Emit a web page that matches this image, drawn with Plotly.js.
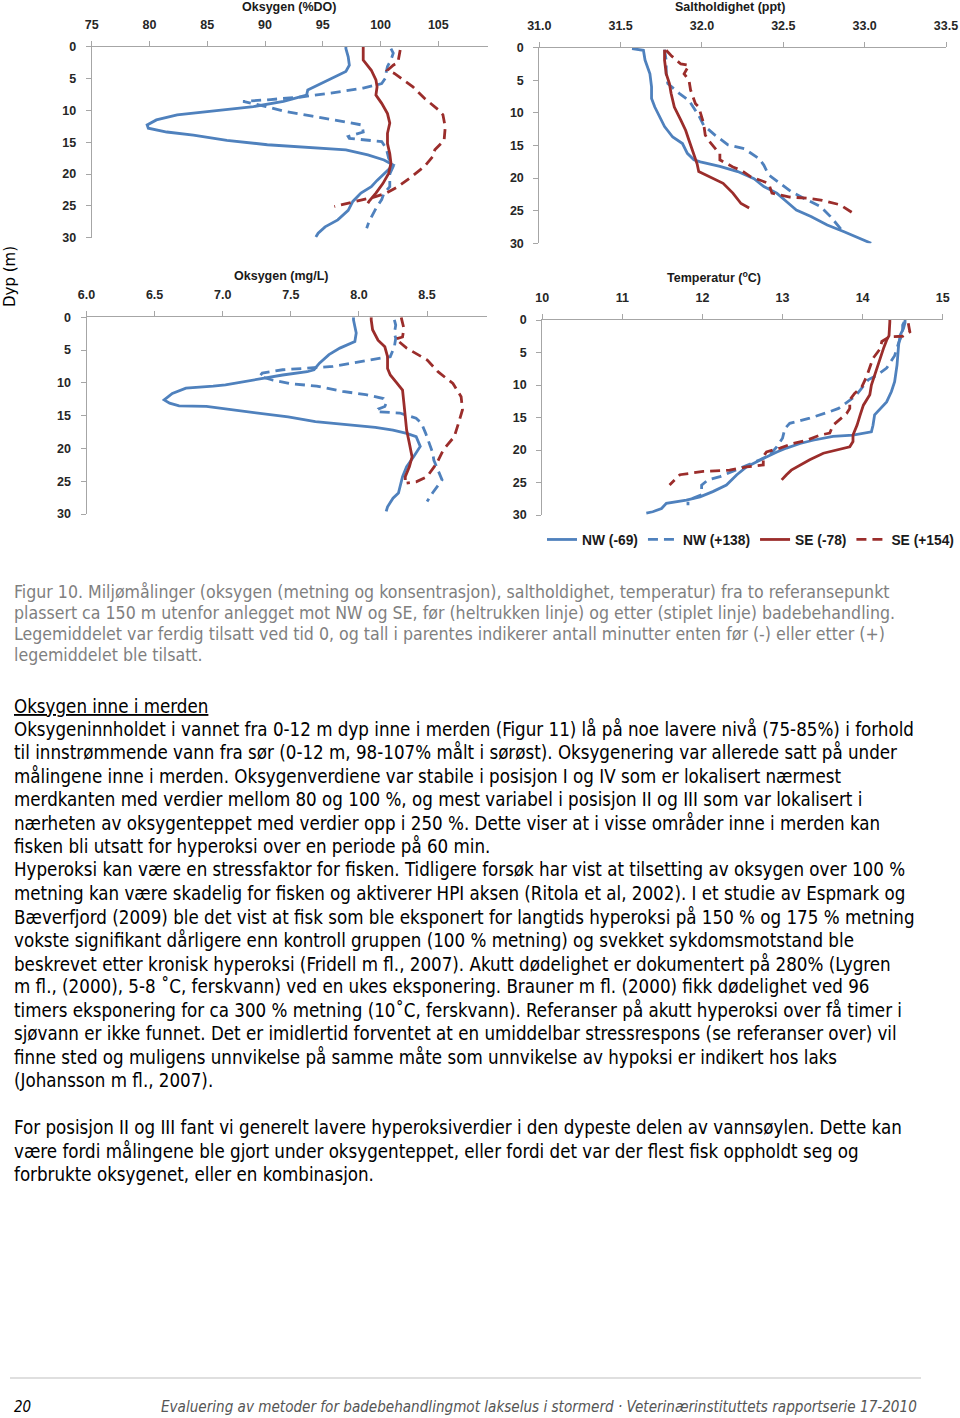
<!DOCTYPE html>
<html><head><meta charset="utf-8">
<script src="https://cdn.plot.ly/plotly-3.0.1.min.js"></script>
<style>html,body{margin:0;padding:0;background:#fff;}#chart{width:960px;height:1418px;}</style>
</head><body><div id="chart"></div>
<script>
// ---------- DATA ----------
var seriesNames = ['NW (-69)', 'NW (+138)', 'SE (-78)', 'SE (+154)'];

// Oksygen (%DO)
var doNW69_d = [0,0.3,1.6,2.9,3.9,5.0,5.8,6.8,7.6,8.1,8.4,8.6,9.4,10.2,10.7,11.5,12.3,12.8,13.4,13.9,14.7,15.4,15.7,16.2,17.0,17.8,18.6,19.9,21.0,22.0,23.0,24.3,25.7,27.2,28.3,29.3,29.9];
var doNW69_v = [97.0,97.0,97.2,97.3,97.0,95.7,94.9,93.7,93.6,92.6,91.8,91.6,89.0,85.0,82.4,80.6,79.8,79.9,81.5,83.8,86.7,90.2,93.0,97.0,98.9,100.3,101.1,100.3,99.7,99.2,98.3,97.6,97.2,96.3,95.2,94.6,94.4];
var doNW138_d = [0.3,1.0,2.1,3.1,3.9,5.0,5.8,6.5,7.3,7.9,8.3,8.6,9.4,10.2,10.9,11.5,11.9,12.3,13.4,14.1,14.4,14.9,16.0,17.5,18.8,20.0,22.0,23.0,24.0,25.4,27.5,28.5];
var doNW138_v = [100.9,101.1,100.9,100.6,100.5,100.4,100.1,98.5,95.7,93.1,90.5,88.1,90.1,91.8,94.1,96.0,97.4,98.4,98.5,97.2,97.3,100.1,100.5,100.7,101.1,100.8,100.8,100.3,100.1,99.6,99.0,98.8];
var doSE78_d = [0,0.3,2.1,3.7,5.2,6.3,7.6,8.9,10.5,12.0,13.6,15.2,16.8,18.3,19.9,21.5,23.0,24.3,24.6];
var doSE78_v = [98.5,98.5,98.5,99.2,99.6,99.7,99.6,100.1,100.6,100.8,100.6,100.6,100.8,100.9,100.7,100.2,99.6,99.0,98.9];
var doSE154_d = [0.5,1.3,2.5,2.9,3.7,4.2,5.0,6.3,8.1,9.9,10.7,12.6,14.7,16.2,17.3,18.8,20.4,22.0,23.0,23.6,24.1,24.6,25.1];
var doSE154_v = [101.7,101.6,101.5,101.1,100.6,101.2,101.8,102.8,103.8,105.0,105.4,105.6,105.5,104.7,104.5,103.8,102.7,101.5,100.5,99.5,98.3,97.2,96.0];

// Saltholdighet (ppt)
var salNW69_d = [0.15,0.4,1.9,2.7,4.0,6.0,7.8,9.1,10.6,12.1,13.7,14.7,16.2,17.2,17.5,18.2,19.0,20.1,21.3,22.3,23.4,24.9,25.9,27.2,28.2,29.0,30.0];
var salNW69_v = [31.57,31.64,31.65,31.66,31.68,31.69,31.69,31.71,31.74,31.77,31.82,31.88,31.91,31.95,31.99,32.11,32.22,32.32,32.38,32.46,32.51,32.58,32.67,32.77,32.87,32.95,33.04];
var salNW138_d = [0.3,2.0,4.0,5.5,7.0,8.1,10.4,11.9,13.4,14.9,15.5,17.0,18.0,19.5,20.8,22.1,23.4,24.4,25.9,27.7,28.5];
var salNW138_v = [31.77,31.78,31.78,31.79,31.86,31.92,31.98,32.01,32.08,32.16,32.26,32.35,32.38,32.41,32.48,32.55,32.65,32.73,32.79,32.85,32.87];
var salSE78_d = [0.3,1.9,4.0,5.5,7.0,9.1,11.1,12.7,14.2,16.2,17.8,19.0,19.8,20.8,22.3,23.9,24.6];
var salSE78_v = [31.77,31.77,31.78,31.80,31.81,31.83,31.87,31.90,31.92,31.95,31.97,31.98,32.05,32.13,32.19,32.24,32.29];
var salSE154_d = [0.4,1.2,2.5,2.7,4.0,5.0,6.5,7.3,8.6,9.1,10.6,11.6,13.4,14.2,15.7,16.2,17.2,18.3,18.8,19.8,20.8,22.3,22.9,23.1,23.4,24.1,25.4];
var salSE154_v = [31.78,31.81,31.87,31.92,31.89,31.92,31.93,31.94,31.96,31.98,32.00,32.01,32.02,32.04,32.09,32.11,32.11,32.19,32.24,32.30,32.41,32.43,32.54,32.65,32.74,32.85,32.93];

// Oksygen (mg/L)
var mgNW69_d = [0,0.4,1.4,2.4,3.7,4.7,5.7,7.0,8.0,8.3,8.8,9.6,10.3,10.5,10.8,11.6,12.1,12.6,13.1,13.5,13.6,14.1,14.6,15.2,15.9,16.4,16.8,17.2,17.7,18.2,19.7,21.3,22.8,24.3,25.3,26.8,27.6,28.9,29.6];
var mgNW69_v = [7.96,7.96,7.97,7.98,7.97,7.86,7.78,7.71,7.67,7.62,7.44,7.22,7.02,6.93,6.73,6.63,6.60,6.57,6.61,6.68,6.88,7.07,7.27,7.48,7.68,7.95,8.12,8.25,8.35,8.42,8.45,8.40,8.35,8.32,8.31,8.29,8.25,8.21,8.20];
var mgNW138_d = [0.4,1.2,2.4,3.2,4.5,6.0,6.5,7.5,8.0,8.5,9.0,9.6,10.1,10.5,11.3,11.8,12.4,13.1,13.6,14.0,14.4,14.6,15.4,16.2,17.7,19.5,20.6,21.8,24.3,24.8,26.8,28.1];
var mgNW138_v = [8.26,8.27,8.26,8.27,8.26,8.23,8.08,7.81,7.44,7.29,7.27,7.37,7.49,7.69,7.88,8.05,8.18,8.20,8.19,8.14,8.13,8.30,8.42,8.46,8.49,8.52,8.54,8.55,8.60,8.61,8.54,8.50];
var mgSE78_d = [0,0.4,1.9,3.5,4.5,6.0,7.8,8.8,9.8,11.1,13.1,15.2,17.2,19.2,21.3,22.8,24.3,24.8];
var mgSE78_v = [8.09,8.09,8.10,8.14,8.19,8.21,8.21,8.23,8.27,8.32,8.33,8.34,8.35,8.37,8.39,8.37,8.34,8.34];
var mgSE154_d = [0,0.7,1.7,3.0,3.3,4.7,6.5,8.3,10.1,12.1,14.1,16.2,18.2,20.2,22.3,24.3,25.1,25.3];
var mgSE154_v = [8.31,8.32,8.33,8.32,8.27,8.35,8.50,8.58,8.69,8.75,8.76,8.73,8.70,8.62,8.57,8.50,8.42,8.35];

// Temperatur (°C)
var tNW69_d = [0,0.4,1.3,2.3,3.8,6.9,9.5,11.0,12.6,13.6,14.6,16.2,17.2,17.7,17.9,18.5,19.0,19.7,20.3,21.3,22.6,23.8,25.4,26.4,27.2,27.7,28.2,29.0,29.5,29.7];
var tNW69_v = [14.53,14.53,14.51,14.47,14.45,14.43,14.40,14.36,14.30,14.22,14.15,14.13,14.11,13.88,13.63,13.38,13.22,13.05,12.93,12.76,12.55,12.43,12.30,12.13,11.97,11.80,11.55,11.49,11.38,11.30];
var tNW138_d = [0.3,0.8,2.1,3.5,5.5,6.7,7.4,8.5,9.2,10.8,11.8,12.7,13.6,14.1,14.6,15.1,15.5,15.9,16.7,18.2,19.5,20.8,21.5,22.4,23.3,24.1,24.6,25.4,26.9,27.7,28.5];
var tNW138_v = [14.52,14.50,14.50,14.45,14.40,14.34,14.30,14.18,14.07,13.97,13.90,13.80,13.70,13.59,13.47,13.34,13.22,13.09,13.03,13.00,12.93,12.84,12.72,12.55,12.38,12.22,12.07,11.99,11.99,11.82,11.82];
var tSE78_d = [0,0.3,2.4,3.1,4.4,5.9,7.4,9.0,10.0,11.5,13.1,14.6,16.2,17.7,18.7,19.5,20.0,20.5,21.5,22.3,23.1,23.8,24.6];
var tSE78_v = [14.34,14.34,14.33,14.30,14.26,14.22,14.18,14.13,14.11,14.09,14.01,13.97,13.93,13.88,13.88,13.84,13.68,13.51,13.34,13.22,13.11,13.05,12.99];
var tSE154_d = [0.5,1.8,2.5,2.6,3.3,4.4,5.9,7.4,8.7,10.3,11.3,12.3,13.6,14.4,15.4,16.2,17.4,17.7,18.5,19.0,19.7,20.3,21.0,22.3,22.6,23.1,23.3,23.5,23.8,25.4];
var tSE154_v = [14.57,14.59,14.50,14.33,14.24,14.22,14.13,14.09,14.05,13.99,13.90,13.84,13.84,13.80,13.70,13.63,13.59,13.47,13.30,13.13,12.97,12.80,12.76,12.76,12.55,12.34,12.01,11.88,11.72,11.59];

// Tick values
var doTicks = [75,80,85,90,95,100,105];
var salTicks = [31.0,31.5,32.0,32.5,33.0,33.5];
var mgTicks = [6.0,6.5,7.0,7.5,8.0,8.5];
var tTicks = [10,11,12,13,14,15];
var depthTicks = [0,5,10,15,20,25,30];

// ---------- TEXT ----------
var captionLines = [
 'Figur 10. Miljømålinger (oksygen (metning og konsentrasjon), saltholdighet, temperatur) fra to referansepunkt',
 'plassert ca 150 m utenfor anlegget mot NW og SE, før (heltrukken linje) og etter (stiplet linje) badebehandling.',
 'Legemiddelet var ferdig tilsatt ved tid 0, og tall i parentes indikerer antall minutter enten før (-) eller etter (+)',
 'legemiddelet ble tilsatt.'
];
var heading = 'Oksygen inne i merden';
var bodyLines = [
 'Oksygeninnholdet i vannet fra 0-12 m dyp inne i merden (Figur 11) lå på noe lavere nivå (75-85%) i forhold',
 'til innstrømmende vann fra sør (0-12 m, 98-107% målt i sørøst). Oksygenering var allerede satt på under',
 'målingene inne i merden. Oksygenverdiene var stabile i posisjon I og IV som er lokalisert nærmest',
 'merdkanten med verdier mellom 80 og 100 %, og mest variabel i posisjon II og III som var lokalisert i',
 'nærheten av oksygenteppet med verdier opp i 250 %. Dette viser at i visse områder inne i merden kan',
 'fisken bli utsatt for hyperoksi over en periode på 60 min.',
 'Hyperoksi kan være en stressfaktor for fisken. Tidligere forsøk har vist at tilsetting av oksygen over 100 %',
 'metning kan være skadelig for fisken og aktiverer HPI aksen (Ritola et al, 2002). I et studie av Espmark og',
 'Bæverfjord (2009) ble det vist at fisk som ble eksponert for langtids hyperoksi på 150 % og 175 % metning',
 'vokste signifikant dårligere enn kontroll gruppen (100 % metning) og svekket sykdomsmotstand ble',
 'beskrevet etter kronisk hyperoksi (Fridell m fl., 2007). Akutt dødelighet er dokumentert på 280% (Lygren',
 'm fl., (2000), 5-8 ˚C, ferskvann) ved en ukes eksponering. Brauner m fl. (2000) fikk dødelighet ved 96',
 'timers eksponering for ca 300 % metning (10˚C, ferskvann). Referanser på akutt hyperoksi over få timer i',
 'sjøvann er ikke funnet. Det er imidlertid forventet at en umiddelbar stressrespons (se referanser over) vil',
 'finne sted og muligens unnvikelse på samme måte som unnvikelse av hypoksi er indikert hos laks',
 '(Johansson m fl., 2007).',
 '',
 'For posisjon II og III fant vi generelt lavere hyperoksiverdier i den dypeste delen av vannsøylen. Dette kan',
 'være fordi målingene ble gjort under oksygenteppet, eller fordi det var der flest fisk oppholdt seg og',
 'forbrukte oksygenet, eller en kombinasjon.'
];
var pageNumber = '20';
var footerText = 'Evaluering av metoder for badebehandlingmot lakselus i stormerd · Veterinærinstituttets rapportserie 17-2010';

// ---------- BUILD ----------
var W = 960, H = 1418;
var BLUE = '#4f81bd', RED = '#9b2d2b';
var styles = [
  {color: BLUE, dash: 'solid'},
  {color: BLUE, dash: '10px,6px'},
  {color: RED, dash: 'solid'},
  {color: RED, dash: '10px,6px'}
];
var panels = [
  {xa: 'x', ya: 'y', data: [[doNW69_v, doNW69_d], [doNW138_v, doNW138_d], [doSE78_v, doSE78_d], [doSE154_v, doSE154_d]]},
  {xa: 'x2', ya: 'y2', data: [[salNW69_v, salNW69_d], [salNW138_v, salNW138_d], [salSE78_v, salSE78_d], [salSE154_v, salSE154_d]]},
  {xa: 'x3', ya: 'y3', data: [[mgNW69_v, mgNW69_d], [mgNW138_v, mgNW138_d], [mgSE78_v, mgSE78_d], [mgSE154_v, mgSE154_d]]},
  {xa: 'x4', ya: 'y4', data: [[tNW69_v, tNW69_d], [tNW138_v, tNW138_d], [tSE78_v, tSE78_d], [tSE154_v, tSE154_d]]}
];
var traces = [];
panels.forEach(function (p, pi) {
  p.data.forEach(function (s, si) {
    traces.push({
      type: 'scatter', mode: 'lines', x: s[0], y: s[1], xaxis: p.xa, yaxis: p.ya,
      name: seriesNames[si], legendgroup: seriesNames[si], showlegend: pi === 3,
      line: {color: styles[si].color, dash: styles[si].dash, width: 2.8}, hoverinfo: 'skip'
    });
  });
});

function px(x) { return x / W; }
function py(y) { return 1 - y / H; }

var tickFont = {family: 'Liberation Sans, Arial, sans-serif', size: 12.5, color: '#262626', weight: 'bold'};
function xAxis(dom, range, ticks, fmt, yanchor) {
  return {domain: dom, range: range, side: 'top', anchor: yanchor, tickmode: 'array', tickvals: ticks,
    tickformat: fmt, showgrid: false, zeroline: false, showline: true, linecolor: '#a6a6a6', linewidth: 1,
    ticks: 'outside', ticklen: 5, tickcolor: '#a6a6a6', tickfont: tickFont, ticklabelstandoff: 7, fixedrange: true};
}
function yAxis(dom, xanchor) {
  return {domain: dom, range: [30, 0], anchor: xanchor, tickmode: 'array', tickvals: depthTicks,
    showgrid: false, zeroline: false, showline: true, linecolor: '#a6a6a6', linewidth: 1,
    ticks: 'outside', ticklen: 5, tickcolor: '#a6a6a6', tickfont: tickFont, ticklabelstandoff: 7, fixedrange: true};
}

var annotations = [];
function addText(text, x, y, opt) {
  opt = opt || {};
  annotations.push({text: text, xref: 'paper', yref: 'paper', x: px(x), y: py(y),
    xanchor: opt.xanchor || 'left', yanchor: 'middle', showarrow: false, align: 'left',
    textangle: opt.angle || 0,
    font: {family: opt.family || 'DejaVu Sans Condensed, DejaVu Sans, sans-serif', size: opt.size || 16,
      color: opt.color || '#111', weight: opt.weight || 'normal', style: opt.style || 'normal'}});
}
var titleFam = 'Liberation Sans, Arial, sans-serif';
addText('Oksygen (%DO)', 289, 7, {xanchor: 'center', family: titleFam, size: 12.5, weight: 'bold', color: '#1a1a1a'});
addText('Saltholdighet (ppt)', 730, 7, {xanchor: 'center', family: titleFam, size: 12.5, weight: 'bold', color: '#1a1a1a'});
addText('Oksygen (mg/L)', 281, 276, {xanchor: 'center', family: titleFam, size: 12.5, weight: 'bold', color: '#1a1a1a'});
addText('Temperatur (<sup>o</sup>C)', 714, 277, {xanchor: 'center', family: titleFam, size: 12.5, weight: 'bold', color: '#1a1a1a'});
addText('Dyp (m)', 10, 277, {xanchor: 'center', angle: -90, family: 'DejaVu Sans, sans-serif', size: 15, color: '#000'});

captionLines.forEach(function (t, i) {
  addText(t, 12, 592 + i * 21, {size: 17.6, color: '#7f7f7f'});
});
addText('<u>' + heading + '</u>', 12, 706, {size: 18.6, color: '#000'});
bodyLines.forEach(function (t, i) {
  if (t) addText(t, 12, 729 + i * 23.45, {size: 18.6, color: '#000'});
});
addText(pageNumber, 12, 1407, {size: 15, color: '#000', style: 'italic'});
addText(footerText, 919, 1407, {xanchor: 'right', size: 15.1, color: '#555', style: 'italic'});

var layout = {
  width: W, height: H, margin: {l: 0, r: 0, t: 0, b: 0}, paper_bgcolor: '#fff', plot_bgcolor: 'rgba(0,0,0,0)',
  showlegend: true,
  legend: {orientation: 'h', x: px(542), y: py(524), xanchor: 'left', yanchor: 'top',
    font: {family: 'Liberation Sans, Arial, sans-serif', size: 13.8, weight: 'bold', color: '#1a1a1a'},
    bgcolor: 'rgba(0,0,0,0)', itemwidth: 30, tracegroupgap: 0},
  xaxis: xAxis([px(91.7), px(488)], [75, 109.3], doTicks, 'd', 'y'),
  yaxis: yAxis([py(237.7), py(46.7)], 'x'),
  xaxis2: xAxis([px(539.3), px(946)], [31.0, 33.5], salTicks, '.1f', 'y2'),
  yaxis2: yAxis([py(243.3), py(47.7)], 'x2'),
  xaxis3: xAxis([px(86.5), px(487)], [6.0, 8.94], mgTicks, '.1f', 'y3'),
  yaxis3: yAxis([py(514), py(317.3)], 'x3'),
  xaxis4: xAxis([px(542.2), px(942.7)], [10, 15], tTicks, 'd', 'y4'),
  yaxis4: yAxis([py(515), py(320)], 'x4'),
  annotations: annotations,
  shapes: [{type: 'line', xref: 'paper', yref: 'paper', x0: px(10), x1: px(921), y0: py(1378), y1: py(1378),
    line: {color: '#bfbfbf', width: 1}}]
};
Plotly.newPlot('chart', traces, layout, {staticPlot: true, displayModeBar: false});
</script></body></html>
